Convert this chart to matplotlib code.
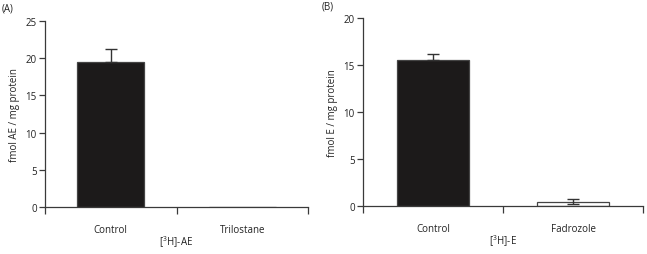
import numpy as np
import matplotlib
matplotlib.use("Agg")
from matplotlib import pyplot as plt

plt.rcParams['font.family'] = ['Open Sans', 'DejaVu Sans']
plt.rcParams['mathtext.default'] = 'regular'

# Panel A data
groups_a = ["Control", "Trilostane"]
values_a = [19.5, 0.0]
err_a = [1.7, 0.0]
colors_a = ["#1c1a1a", "white"]

# Panel B data
groups_b = ["Control", "Fadrozole"]
values_b = [15.5, 0.45]
err_b = [0.6, 0.25]
colors_b = ["#1c1a1a", "white"]

axis_color = "#3a3a3a"

fig = plt.figure(figsize=(6.47, 2.55), dpi=100)
ax1 = fig.add_axes([0.0696, 0.184, 0.4064, 0.730])
ax2 = fig.add_axes([0.561, 0.188, 0.433, 0.739])


def draw_panel(ax, groups, values, errs, colors, ymax, ylabel, xlabel, both_sides):
    x = np.arange(len(groups)) + 0.5
    ax.bar(x, values, width=0.51, color=colors, edgecolor="#444444", linewidth=0.9, zorder=2)
    for xi, v, e in zip(x, values, errs):
        if e <= 0:
            continue
        lower = e if both_sides and v < 2 else 0
        ax.errorbar(xi, v, yerr=[[lower], [e]], fmt="none", ecolor="#333333",
                    elinewidth=1.0, capsize=4, capthick=1.0, zorder=3)
    ax.set_xlim(0, 2)
    ax.set_ylim(0, ymax)
    ax.set_yticks(np.arange(0, ymax + 1, 5))
    ax.set_xticks([0, 1, 2])
    ax.set_xticklabels([])
    ax.set_xticks(x, minor=True)
    ax.set_xticklabels(groups, minor=True)
    ax.tick_params(axis="x", which="major", length=5, width=0.9, color=axis_color, direction="out")
    ax.tick_params(axis="x", which="minor", length=0, pad=12, labelsize=7, labelcolor="#222222")
    ax.tick_params(axis="y", length=4, width=0.9, color=axis_color, labelsize=7,
                   labelcolor="#222222", pad=2)
    for s in ["top", "right"]:
        ax.spines[s].set_visible(False)
    for s in ["left", "bottom"]:
        ax.spines[s].set_color(axis_color)
        ax.spines[s].set_linewidth(0.9)
    ax.set_ylabel(ylabel, fontsize=7, color="#222222", labelpad=4)
    ax.set_xlabel(xlabel, fontsize=7, color="#222222", labelpad=-1)


draw_panel(ax1, groups_a, values_a, err_a, colors_a, 25,
           "fmol AE / mg protein", "[$^{3}$H]-AE", False)
draw_panel(ax2, groups_b, values_b, err_b, colors_b, 20,
           "fmol E / mg protein", "[$^{3}$H]-E", True)

fig.text(0.003, 0.965, "(A)", fontsize=7, color="#222222", va="center")
fig.text(0.497, 0.972, "(B)", fontsize=7, color="#222222", va="center")

fig.savefig("out.png", dpi=100)
